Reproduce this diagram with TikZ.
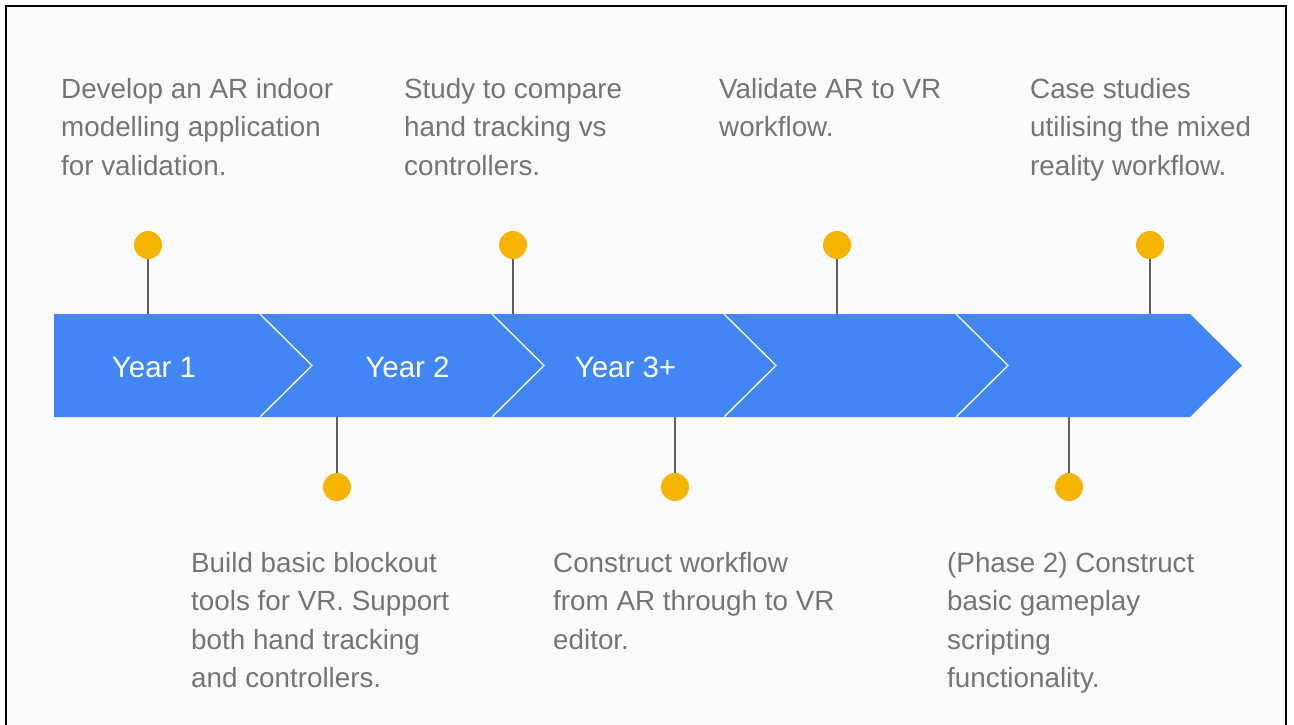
\documentclass[tikz,border=0pt]{standalone}
\usepackage{fontspec}
\setmainfont{Liberation Sans}
\definecolor{bandblue}{HTML}{4285F4}
\definecolor{dotyellow}{HTML}{F4B400}
\definecolor{txtgray}{HTML}{757575}
\definecolor{linegray}{HTML}{5F5F5F}
\definecolor{bggray}{HTML}{FAFAFA}
\begin{document}
\begin{tikzpicture}[x=1pt,y=-1pt,
  dot/.style={circle,fill=dotyellow,minimum size=28pt,inner sep=0pt},
  stem/.style={draw=linegray,line width=1.3pt},
  desc/.style={anchor=base west,inner sep=0pt,align=left,text=txtgray,
    font=\fontsize{27.8}{38.6}\selectfont},
  yearlbl/.style={anchor=base,inner sep=0pt,text=white,
    font=\fontsize{29.5}{34}\selectfont},
  chev/.style={draw=white,line width=1.3pt}]
\useasboundingbox (0,0) rectangle (1294,724);
\fill[white] (0,0) rectangle (1294,724);
\fill[bggray] (6,6) rectangle (1286,730);
\draw[black,line width=2.6pt] (6,730) -- (6,6) -- (1286,6) -- (1286,730);
% band
\fill[bandblue] (54,314) -- (1190,314) -- (1242,365.5) -- (1190,417) -- (54,417) -- cycle;
\foreach \x in {260,492,724,956}{
  \draw[chev] (\x,314) -- (\x+52,365.5) -- (\x,417);
}
% band edge coordinates
\coordinate (t1) at (148,314);
\coordinate (t2) at (513,314);
\coordinate (t3) at (837,314);
\coordinate (t4) at (1150,314);
\coordinate (b1) at (337,417);
\coordinate (b2) at (675,417);
\coordinate (b3) at (1069,417);
% dots
\node[dot] (d1) at (148,245) {};
\node[dot] (d2) at (513,245) {};
\node[dot] (d3) at (837,245) {};
\node[dot] (d4) at (1150,245) {};
\node[dot] (e1) at (337,487) {};
\node[dot] (e2) at (675,487) {};
\node[dot] (e3) at (1069,487) {};
\draw[stem] (d1) -- (t1);
\draw[stem] (d2) -- (t2);
\draw[stem] (d3) -- (t3);
\draw[stem] (d4) -- (t4);
\draw[stem] (e1) -- (b1);
\draw[stem] (e2) -- (b2);
\draw[stem] (e3) -- (b3);
% year labels
\node[yearlbl] (y1) at (154,377) {Year 1};
\node[yearlbl] (y2) at (407.5,377) {Year 2};
\node[yearlbl] (y3) at (625.5,377) {Year 3+};
% descriptions (anchored at the baseline of the last line)
\node[desc] (a1) at (61,175.2) {Develop an AR indoor\\modelling application\\for validation.};
\node[desc] (a2) at (404,175.2) {Study to compare\\hand tracking vs\\controllers.};
\node[desc] (a3) at (719,136.6) {Validate AR to VR\\workflow.};
\node[desc] (a4) at (1030,175.2) {Case studies\\utilising the mixed\\reality workflow.};
\node[desc] (c1) at (191,687.8) {Build basic blockout\\tools for VR. Support\\both hand tracking\\and controllers.};
\node[desc] (c2) at (553,649.2) {Construct workflow\\from AR through to VR\\editor.};
\node[desc] (c3) at (947,687.8) {(Phase 2) Construct\\basic gameplay\\scripting\\functionality.};
\end{tikzpicture}
\end{document}
